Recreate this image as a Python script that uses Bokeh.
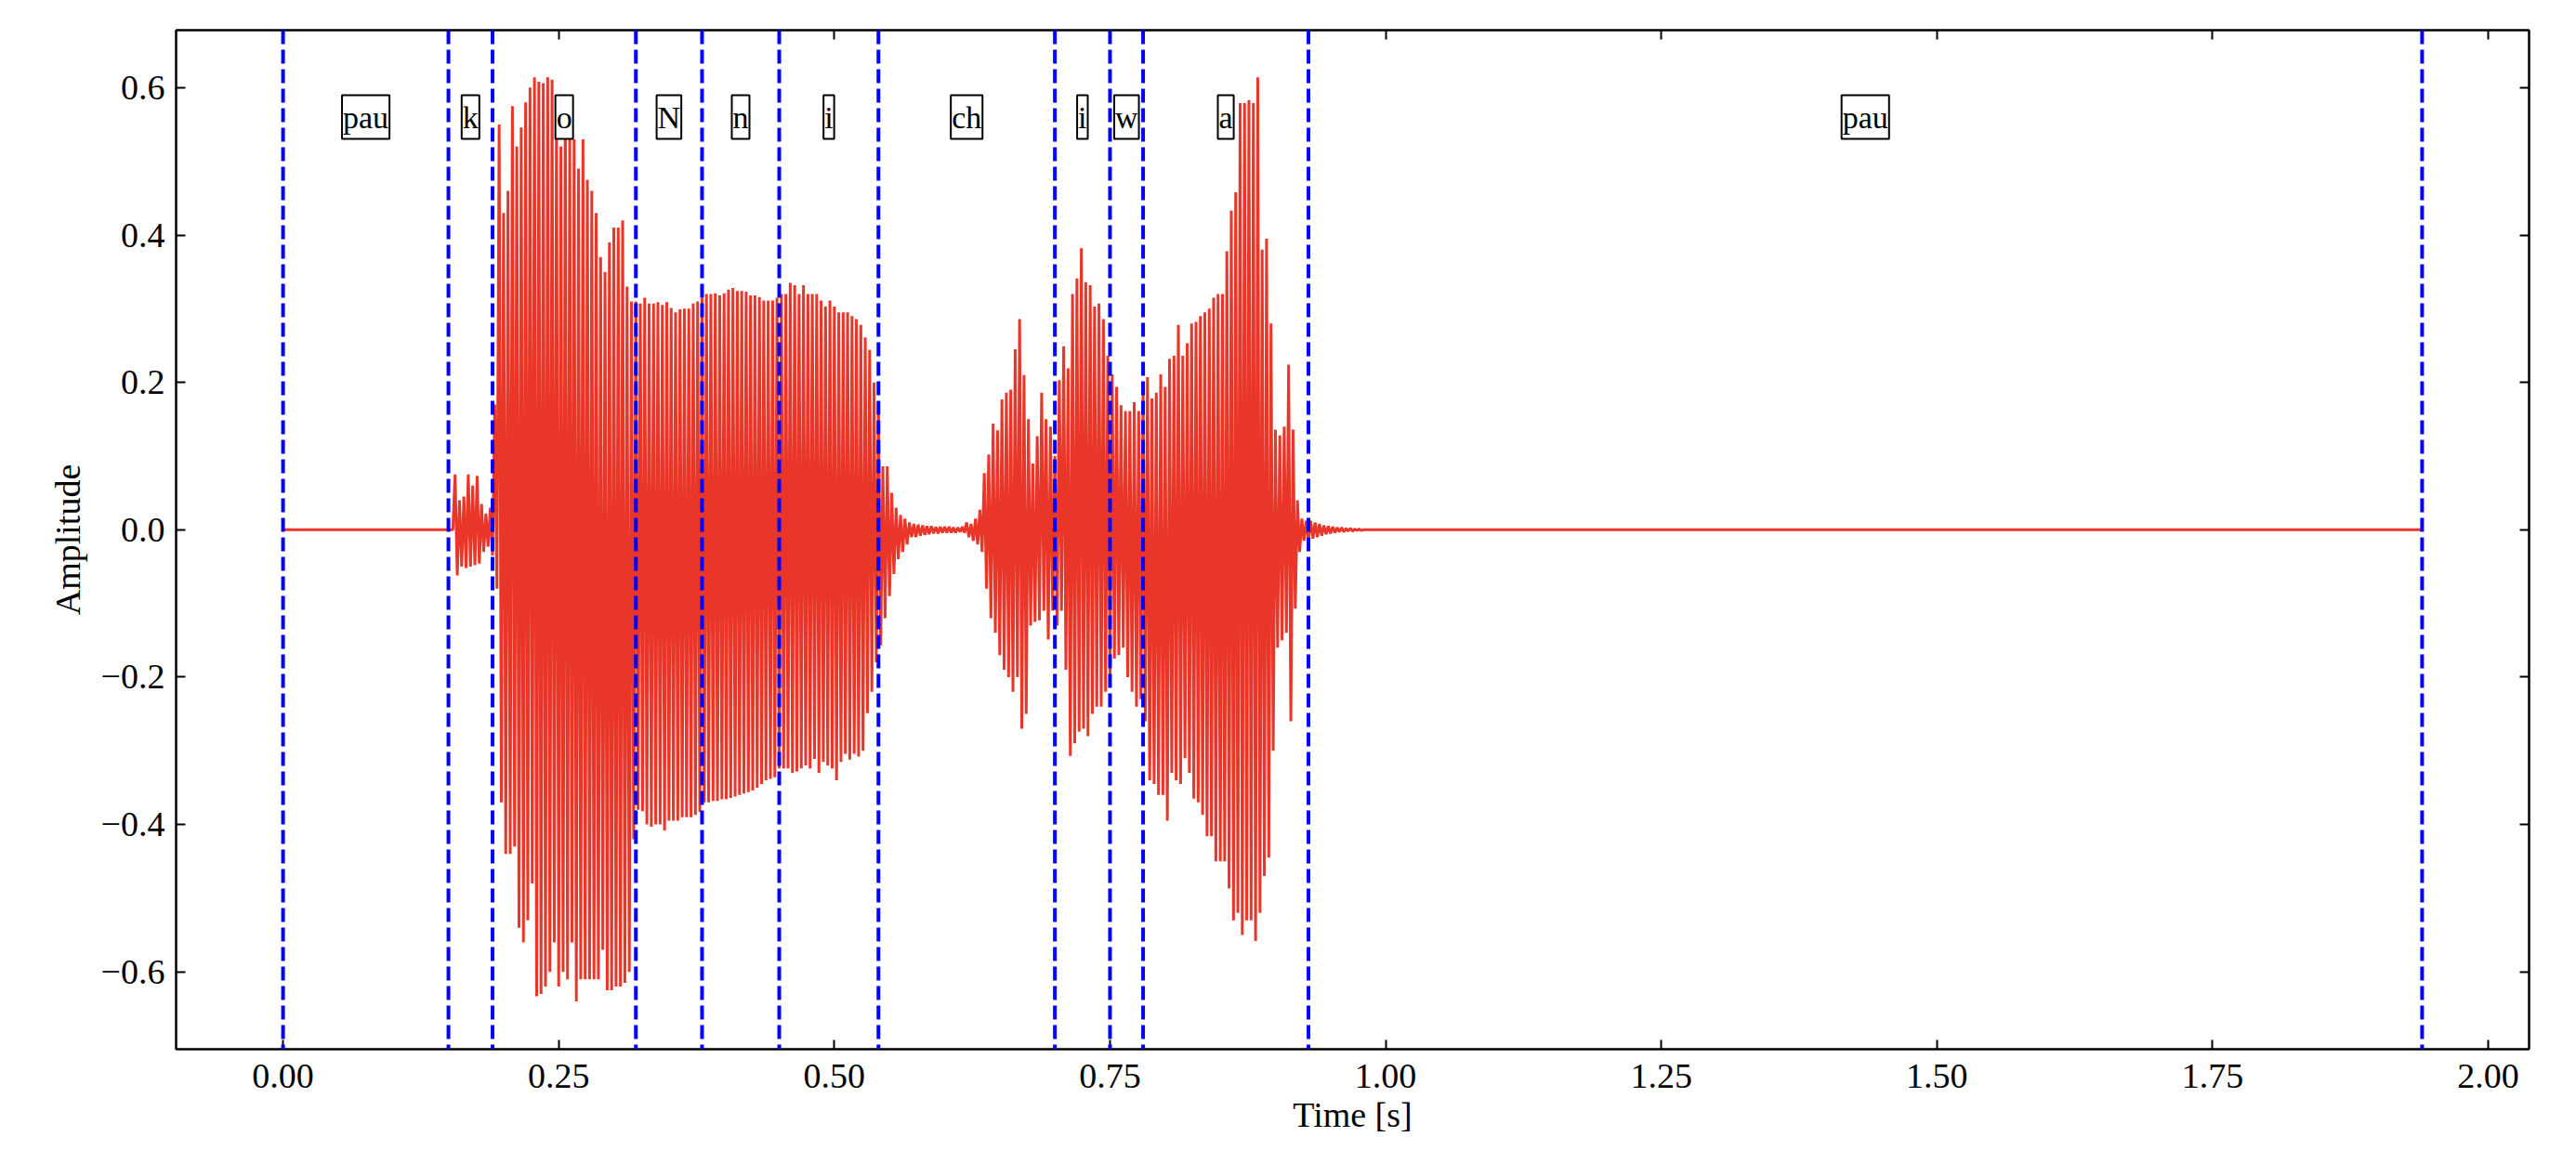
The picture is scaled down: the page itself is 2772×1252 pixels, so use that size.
import numpy as np
from bokeh.plotting import figure
from bokeh.models import Range1d, FixedTicker, LinearAxis, Span, Label, CustomJSTickFormatter
from bokeh.embed import file_html
from bokeh.resources import INLINE

# ---------------- data ----------------
boundaries = [0.00, 0.15, 0.19, 0.32, 0.38, 0.45, 0.54, 0.70, 0.75, 0.78, 0.93, 1.94]
phonemes = ["pau", "k", "o", "N", "n", "i", "ch", "i", "w", "a", "pau"]
x_ticks = [0.00, 0.25, 0.50, 0.75, 1.00, 1.25, 1.50, 1.75, 2.00]
y_ticks = [-0.6, -0.4, -0.2, 0.0, 0.2, 0.4, 0.6]

# waveform peaks read per ~4 ms pitch period, starting at 0.156 s
wave_start = 0.156
wave_step = 0.004
signal_end = 1.94
upper_peaks = [
    # k burst (0.156-0.188)
    0.075, 0.040, 0.045, 0.075, 0.060, 0.073, 0.035, 0.022, 0.030,
    # o (0.192-0.320)
    0.17, 0.55, 0.43, 0.46, 0.575, 0.52, 0.546, 0.58, 0.60, 0.614, 0.608,
    0.606, 0.614, 0.611, 0.575, 0.52, 0.587, 0.53, 0.53, 0.49, 0.53, 0.475,
    0.46, 0.43, 0.37, 0.35, 0.39, 0.41, 0.41, 0.42, 0.33, 0.31, 0.31,
    # N, n (0.324-0.448)
    0.307, 0.315, 0.307, 0.307, 0.309, 0.305, 0.309, 0.301, 0.295, 0.299,
    0.30, 0.30, 0.307, 0.31, 0.315, 0.32, 0.32, 0.321, 0.318, 0.321,
    0.326, 0.328, 0.324, 0.324, 0.323, 0.318, 0.318, 0.316, 0.311, 0.311,
    0.311, 0.315,
    # i (0.452-0.544)
    0.32, 0.32, 0.335, 0.332, 0.32, 0.332, 0.32, 0.32, 0.32, 0.311, 0.303,
    0.311, 0.303, 0.295, 0.295, 0.295, 0.29, 0.286, 0.278, 0.261, 0.244,
    0.20, 0.165, 0.086,
    # decay / closure (0.548-0.628)
    0.086, 0.05, 0.03, 0.02, 0.015, 0.01, 0.008, 0.007, 0.006, 0.005, 0.005,
    0.004, 0.004, 0.004, 0.004, 0.003, 0.003, 0.004, 0.01, 0.008, 0.015,
    # ch (0.632-0.680)
    0.027, 0.077, 0.102, 0.144, 0.135, 0.177, 0.186, 0.19, 0.245, 0.286,
    0.21, 0.15, 0.09,
    # i, w (0.684-0.816)
    0.127, 0.186, 0.15, 0.14, 0.10, 0.203, 0.249, 0.219, 0.32, 0.341,
    0.382, 0.336, 0.332, 0.303, 0.307, 0.286, 0.236, 0.211, 0.194, 0.169,
    0.161, 0.161, 0.173, 0.161, 0.194, 0.207, 0.178, 0.186, 0.211, 0.194,
    0.232, 0.236, 0.278, 0.236,
    # a (0.820-0.920)
    0.253, 0.28, 0.282, 0.29, 0.295, 0.30, 0.315, 0.32, 0.32, 0.378, 0.433,
    0.458, 0.579, 0.579, 0.583, 0.579, 0.614, 0.38, 0.395, 0.28, 0.136,
    0.128, 0.14, 0.224, 0.136, 0.04,
    # tail (0.924-0.976)
    0.015, 0.012, 0.012, 0.010, 0.008, 0.006, 0.005, 0.004, 0.003, 0.003,
    0.002, 0.002, 0.001, 0.001,
]
lower_peaks = [
    -0.062, -0.050, -0.052, -0.050, -0.048, -0.046, -0.030, -0.023, -0.035,
    -0.08, -0.37, -0.44, -0.44, -0.43, -0.54, -0.56, -0.53, -0.48, -0.633, -0.63,
    -0.62, -0.60, -0.56, -0.62, -0.60, -0.61, -0.56, -0.64, -0.61, -0.61, -0.61,
    -0.61, -0.61, -0.57, -0.625, -0.625, -0.62, -0.62, -0.615, -0.60, -0.42, -0.38,
    -0.382, -0.40, -0.403, -0.40, -0.40, -0.408, -0.395, -0.395, -0.395, -0.39,
    -0.39, -0.39, -0.387, -0.383, -0.37, -0.37, -0.368, -0.368, -0.366, -0.366,
    -0.364, -0.362, -0.36, -0.358, -0.356, -0.354, -0.35, -0.345, -0.34, -0.338,
    -0.336, -0.324,
    -0.324, -0.324, -0.33, -0.328, -0.324, -0.32, -0.324, -0.311, -0.33, -0.315,
    -0.32, -0.324, -0.34, -0.315, -0.304, -0.312, -0.304, -0.308, -0.30, -0.249,
    -0.22, -0.18, -0.157, -0.12,
    -0.09, -0.06, -0.04, -0.03, -0.02, -0.01, -0.01, -0.008, -0.007, -0.006,
    -0.005, -0.005, -0.004, -0.004, -0.004, -0.004, -0.003, -0.004, -0.01, -0.015,
    -0.02,
    -0.03, -0.08, -0.12, -0.14, -0.17, -0.19, -0.20, -0.22, -0.20, -0.27,
    -0.25, -0.13, -0.125,
    -0.123, -0.11, -0.149, -0.11, -0.13, -0.11, -0.19, -0.307, -0.29, -0.274,
    -0.27, -0.28, -0.25, -0.24, -0.24, -0.22, -0.2, -0.175, -0.17, -0.16,
    -0.20, -0.22, -0.24, -0.23, -0.26, -0.34, -0.345, -0.36, -0.36, -0.395,
    -0.33, -0.34, -0.345, -0.31,
    -0.33, -0.365, -0.37, -0.387, -0.416, -0.416, -0.45, -0.45, -0.45, -0.487,
    -0.53, -0.52, -0.55, -0.53, -0.53, -0.558, -0.52, -0.47, -0.445, -0.30,
    -0.16, -0.15, -0.14, -0.26, -0.107, -0.03,
    -0.015, -0.013, -0.012, -0.010, -0.008, -0.006, -0.005, -0.004, -0.003,
    -0.003, -0.002, -0.002, -0.001, -0.001,
]

# ---------------- build waveform polyline ----------------
n = min(len(upper_peaks), len(lower_peaks))
peak_times = wave_start + wave_step * np.arange(n)
xs = [0.0, wave_start - wave_step / 2]
ys = [0.0, 0.0]
for ti, u, lo in zip(peak_times, upper_peaks[:n], lower_peaks[:n]):
    xs += [ti, ti + wave_step / 2]
    ys += [u, lo]
xs += [peak_times[-1] + wave_step, signal_end]
ys += [0.0, 0.0]

FONT = "Liberation Serif"
RED = "#e93628"

p = figure(width=2756, height=1236, output_backend="svg", toolbar_location=None,
           x_range=Range1d(-0.097, 2.037), y_range=Range1d(-0.705, 0.678),
           min_border_left=189, min_border_right=35, min_border_top=32, min_border_bottom=107)
p.background_fill_color = "white"
p.border_fill_color = "white"
p.outline_line_color = "black"
p.outline_line_width = 2
p.xgrid.visible = False
p.ygrid.visible = False

p.line(xs, ys, line_color=RED, line_width=3)

# phoneme boundaries
for b in boundaries:
    p.add_layout(Span(location=b, dimension="height", line_color="#0000ff",
                      line_width=4, line_dash="15 6"))

# phoneme labels
for i, ph in enumerate(phonemes):
    mid = (boundaries[i] + boundaries[i + 1]) / 2
    p.add_layout(Label(x=mid, y=0.56, text=ph, text_align="center", text_baseline="middle",
                       text_font=FONT, text_font_size="34px", text_color="black",
                       background_fill_color="white", border_line_color="black",
                       border_line_width=2, padding=(1, 5)))

def style_axis(ax, ticks):
    ax.ticker = FixedTicker(ticks=ticks)
    ax.major_tick_in = 10
    ax.major_tick_out = 0
    ax.major_tick_line_width = 2
    ax.major_tick_line_color = "black"
    ax.minor_tick_line_color = None
    ax.axis_line_width = 2
    ax.axis_line_color = "black"
    ax.major_label_text_font = FONT
    ax.major_label_text_font_size = "38px"
    ax.major_label_text_color = "black"
    ax.axis_label_text_font = FONT
    ax.axis_label_text_font_size = "38px"
    ax.axis_label_text_font_style = "normal"
    ax.axis_label_text_color = "black"

xa = p.xaxis[0]
style_axis(xa, x_ticks)
xa.formatter = CustomJSTickFormatter(code="return tick.toFixed(2);")
xa.axis_label = "Time [s]"
xa.major_label_standoff = 16
xa.axis_label_standoff = 5

ya = p.yaxis[0]
style_axis(ya, y_ticks)
ya.formatter = CustomJSTickFormatter(
    code="return (tick < -1e-9 ? '\u2212' : '') + Math.abs(tick).toFixed(1);")
ya.axis_label = "Amplitude"
ya.major_label_standoff = 12
ya.axis_label_standoff = 12

top_ax = LinearAxis()
style_axis(top_ax, x_ticks)
top_ax.formatter = CustomJSTickFormatter(code="return '';")
top_ax.major_label_text_font_size = "0px"
p.add_layout(top_ax, "above")

right_ax = LinearAxis()
style_axis(right_ax, y_ticks)
right_ax.formatter = CustomJSTickFormatter(code="return '';")
right_ax.major_label_text_font_size = "0px"
p.add_layout(right_ax, "right")

open("out.html", "w").write(file_html(p, INLINE))
